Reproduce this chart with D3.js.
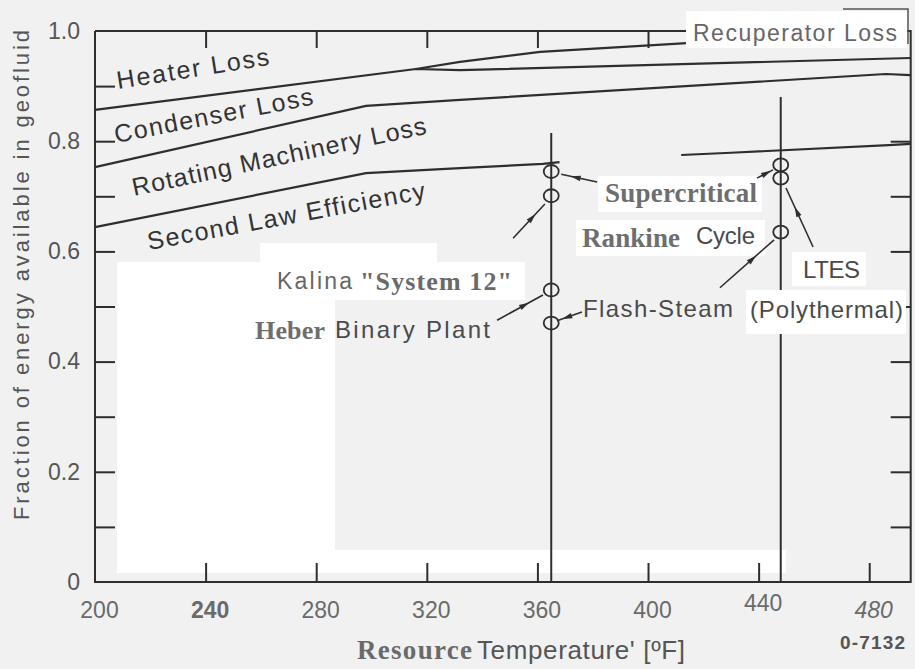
<!DOCTYPE html>
<html><head><meta charset="utf-8">
<script src="https://cdn.jsdelivr.net/npm/d3@7"></script>
<style>html,body{margin:0;padding:0;background:#f1f1f1;} svg{display:block}</style>
</head><body><svg id="c" width="915" height="669"></svg>
<script>
// ---------- data ----------
const xTickValues = [200, 240, 280, 320, 360, 400, 440, 480];
const xTickLabels = ["200", "240", "280", "320", "360", "400", "440", "480"];
const yTickValues = [0, 0.2, 0.4, 0.6, 0.8, 1.0];
const yTickLabels = ["0", "0.2", "0.4", "0.6", "0.8", "1.0"];
const yMinorTicks = [0.1, 0.2, 0.3, 0.4, 0.5, 0.6, 0.7, 0.8, 0.9];

// Boundary between Heater Loss and Condenser Loss
const heaterTemp = [200, 316, 332, 495];
const heaterFrac = [0.857, 0.931, 0.929, 0.951];
// Recuperator loss branch
const recupTemp = [316, 332, 361, 414];
const recupFrac = [0.931, 0.944, 0.962, 0.978];
// Boundary between Condenser Loss and Rotating Machinery Loss
const condTemp = [200, 298, 332, 486, 495];
const condFrac = [0.753, 0.864, 0.875, 0.922, 0.920];
// Second law efficiency (gap where hidden by label)
const secondTemp = [200, 298, 332, 362, 368, 390, 412, 430, 487, 495];
const secondFrac = [0.644, 0.742, 0.751, 0.759, 0.762, null, 0.775, 0.779, 0.793, 0.795];

// Plant markers
const markerTemp = [365, 365, 365, 365, 448, 448, 448];
const markerFrac = [0.745, 0.701, 0.530, 0.470, 0.757, 0.733, 0.635];

// Vertical reference lines
const ruleTemp = [365, 448];
const ruleTop = [0.815, 0.880];

// Arrows (from label towards marker)
const arrowFromTemp = [381.6, 439.4, 351.2, 426.0, 459.7, 345.4, 376.1];
const arrowFromFrac = [0.726, 0.733, 0.624, 0.534, 0.608, 0.475, 0.490];
const arrowToTemp   = [368.6, 445.2, 362.7, 445.6, 449.9, 362.0, 367.1];
const arrowToFrac   = [0.740, 0.748, 0.686, 0.621, 0.715, 0.521, 0.474];

// ---------- chart ----------
const svg = d3.select("#c");
const x = d3.scaleLinear().domain([200, 495]).range([95, 910.7]);
const y = d3.scaleLinear().domain([0, 1]).range([582, 31]);

const SANS = "'Liberation Sans', Arial, sans-serif";
const SERIF = "'Liberation Serif', 'Times New Roman', serif";
const NARROW = "'Liberation Sans Narrow', 'Liberation Sans', sans-serif";
const INK = "#2e2e2e";

// background patches (scan artefacts)
const bgG = svg.append("g");
function patch(g, x0, y0, x1, y1, fill) {
  g.append("rect").attr("x", x0).attr("y", y0).attr("width", x1 - x0).attr("height", y1 - y0).attr("fill", fill || "#ffffff");
}
patch(bgG, 117, 262, 335, 573);
patch(bgG, 117, 262, 525, 300);
patch(bgG, 260, 243, 437, 262);
patch(bgG, 335, 550, 786, 573);
patch(bgG, 598, 176, 762, 212);
patch(bgG, 576, 220, 765, 256);
patch(bgG, 792, 252, 866, 286);

// frame
const frameG = svg.append("g").attr("stroke", INK).attr("stroke-width", 2).attr("fill", "none");
frameG.append("path").attr("d", `M${x(200)},${y(1)}V${y(0)}H${x(495)}V${y(1)}H${x(200)}`);

// inward ticks
const tickStyle = g => g.call(s => s.select(".domain").remove())
  .selectAll(".tick line").attr("stroke", INK).attr("stroke-width", 2);
svg.append("g").attr("transform", `translate(0,${y(0)})`)
  .call(d3.axisBottom(x).tickValues(xTickValues.slice(1)).tickSize(-19).tickFormat(""))
  .call(tickStyle);
svg.append("g").attr("transform", `translate(0,${y(1)})`)
  .call(d3.axisTop(x).tickValues(xTickValues.slice(1)).tickSize(-17).tickFormat(""))
  .call(tickStyle);
svg.append("g").attr("transform", `translate(${x(200)},0)`)
  .call(d3.axisLeft(y).tickValues(yMinorTicks).tickSize(-20).tickFormat(""))
  .call(tickStyle);
svg.append("g").attr("transform", `translate(${x(495)},0)`)
  .call(d3.axisRight(y).tickValues(yMinorTicks.slice(0, 8)).tickSize(-20).tickFormat(""))
  .call(tickStyle);

// tick labels
const yl = svg.append("g").attr("transform", `translate(${x(200) - 2},0)`)
  .call(d3.axisLeft(y).tickValues(yTickValues).tickFormat((d, i) => yTickLabels[i]).tickSize(0).tickPadding(13));
yl.select(".domain").remove();
yl.selectAll("text").attr("font-family", SANS).attr("font-size", 23).attr("fill", "#555");

const xl = svg.append("g").attr("transform", `translate(0,${y(0)})`)
  .call(d3.axisBottom(x).tickValues(xTickValues).tickFormat((d, i) => xTickLabels[i]).tickSize(0).tickPadding(20));
xl.select(".domain").remove();
xl.selectAll("text").attr("font-family", SANS).attr("font-size", 23).attr("fill", "#6a6a6a")
  .attr("dx", 4)
  .attr("font-weight", d => d === 240 ? "bold" : null)
  .attr("font-style", d => d === 480 ? "italic" : null)
  .attr("transform", d => d === 440 ? "translate(0,-7)" : null);

// vertical rules
svg.append("g").selectAll("line").data(ruleTemp).join("line")
  .attr("x1", d => x(d)).attr("x2", d => x(d))
  .attr("y1", (d, i) => y(ruleTop[i])).attr("y2", y(0))
  .attr("stroke", INK).attr("stroke-width", 2);

// curves
const lineGen = d3.line().defined(d => d[1] !== null).x(d => x(d[0])).y(d => y(d[1]));
const series = [
  [heaterTemp, heaterFrac],
  [recupTemp, recupFrac],
  [condTemp, condFrac],
  [secondTemp, secondFrac]
];
svg.append("g").selectAll("path").data(series).join("path")
  .attr("d", s => lineGen(s[0].map((t, i) => [t, s[1][i]])))
  .attr("fill", "none").attr("stroke", INK).attr("stroke-width", 2.2);

// markers
svg.append("g").selectAll("ellipse").data(markerTemp).join("ellipse")
  .attr("cx", d => x(d)).attr("cy", (d, i) => y(markerFrac[i]))
  .attr("rx", 7.5).attr("ry", 6.5)
  .attr("fill", "none").attr("stroke", INK).attr("stroke-width", 1.8);

// arrows
const ag = svg.append("g");
arrowFromTemp.forEach((t0, i) => {
  const x0 = x(t0), y0 = y(arrowFromFrac[i]), x1 = x(arrowToTemp[i]), y1 = y(arrowToFrac[i]);
  ag.append("line").attr("x1", x0).attr("y1", y0).attr("x2", x1).attr("y2", y1)
    .attr("stroke", INK).attr("stroke-width", 1.6);
  const L = Math.hypot(x1 - x0, y1 - y0), ux = (x1 - x0) / L, uy = (y1 - y0) / L;
  const mx = x0 + 0.6 * (x1 - x0), my = y0 + 0.6 * (y1 - y0);
  const tip = [mx + ux * 5, my + uy * 5];
  const b1 = [mx - ux * 5 - uy * 2.8, my - uy * 5 + ux * 2.8];
  const b2 = [mx - ux * 5 + uy * 2.8, my - uy * 5 - ux * 2.8];
  ag.append("path").attr("d", `M${tip}L${b1}L${b2}Z`).attr("fill", INK);
});

// label patches on top of lines
const coverG = svg.append("g");
patch(coverG, 746, 290, 906, 334);
patch(coverG, 686, 11, 907, 48);
coverG.append("path").attr("d", "M843,9H908V44").attr("fill", "none").attr("stroke", "#555").attr("stroke-width", 1.5);

// text helper
function label(txt, px, py, opts) {
  const t = svg.append("text").attr("x", 0).attr("y", 0)
    .attr("transform", `translate(${px},${py})` + (opts.rot ? ` rotate(${opts.rot})` : ""))
    .attr("font-family", opts.font || SANS).attr("font-size", opts.size || 22)
    .attr("font-weight", opts.bold ? "bold" : null)
    .attr("fill", opts.fill || "#333")
    .text(txt);
  if (opts.len) t.attr("textLength", opts.len).attr("lengthAdjust", "spacing");
  return t;
}

// region labels
label("Heater Loss", 118, 89, {rot: -9, len: 154, size: 25});
label("Condenser Loss", 116, 143, {rot: -11, len: 202, size: 25});
label("Rotating Machinery Loss", 134, 196, {rot: -12, len: 300, size: 25});
label("Second Law Efficiency", 149, 250, {rot: -10.5, len: 282, size: 25});
label("Recuperator Loss", 693, 41, {len: 204, size: 23, fill: "#666"});

// plant labels
label("Supercritical", 605, 202, {font: SERIF, bold: true, size: 27, len: 152, fill: "#6e6e6e"});
label("Rankine", 582, 247, {font: SERIF, bold: true, size: 27, len: 98, fill: "#6e6e6e"});
label("Cycle", 696, 244, {size: 24, len: 59, fill: "#4a4a4a"});
label("LTES", 803, 278, {size: 24, len: 57, fill: "#4a4a4a"});
label("(Polythermal)", 750, 318, {size: 24, len: 153, fill: "#4a4a4a"});
label("Kalina", 277, 289, {size: 23, len: 75, fill: "#666"});
label("\"System 12\"", 360, 290, {font: SERIF, bold: true, size: 26, len: 152, fill: "#6a6a6a"});
label("Heber", 255, 339, {font: SERIF, bold: true, size: 26, len: 70, fill: "#6e6e6e"});
label("Binary Plant", 335, 338, {size: 24, len: 155, fill: "#4a4a4a"});
label("Flash-Steam", 583, 317, {size: 24, len: 150, fill: "#4a4a4a"});

// axis titles
svg.append("text")
  .attr("transform", `translate(29,275) rotate(-90)`)
  .attr("text-anchor", "middle")
  .attr("font-family", SANS).attr("font-size", 22).attr("fill", "#555")
  .attr("textLength", 490).attr("lengthAdjust", "spacing")
  .text("Fraction of energy available in geofluid");
label("Resource", 357, 659, {font: SERIF, bold: true, size: 27, len: 115, fill: "#6a6a6a"});
label("Temperature' [ºF]", 477, 659, {font: NARROW, size: 26, len: 208, fill: "#555"});
label("0-7132", 840, 649, {font: NARROW, bold: true, size: 19, len: 65, fill: "#555"});
</script></body></html>
